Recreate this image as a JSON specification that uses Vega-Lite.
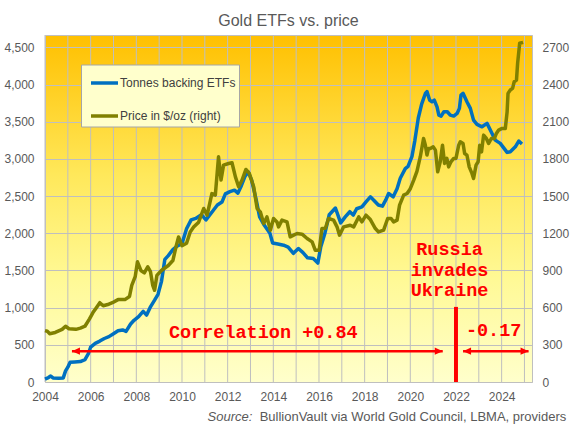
{
  "$schema": "https://vega.github.io/schema/vega-lite/v6.json",
  "autosize": "none",
  "width": 487,
  "height": 347,
  "padding": {"left": 45, "top": 35, "right": 43, "bottom": 44},
  "title": {
    "text": "Gold ETFs vs. price",
    "font": "Liberation Sans",
    "fontSize": 16,
    "fontWeight": "normal",
    "color": "#595959",
    "anchor": "middle",
    "baseline": "alphabetic",
    "offset": 10,
    "dy": 17
  },
  "view": {
    "stroke": "#BFBFBF",
    "fill": {
      "gradient": "linear", "x1": 0, "y1": 0, "x2": 0, "y2": 1,
      "stops": [
        {"offset": 0, "color": "#FFC000"},
        {"offset": 0.4, "color": "#FFE85A"},
        {"offset": 0.7, "color": "#FFF995"},
        {"offset": 1, "color": "#FFFFCC"}
      ]
    }
  },
  "datasets": {
    "years": [
      {"year": 2004}, {"year": 2005}, {"year": 2006}, {"year": 2007}, {"year": 2008}, {"year": 2009},
      {"year": 2010}, {"year": 2011}, {"year": 2012}, {"year": 2013}, {"year": 2014}, {"year": 2015},
      {"year": 2016}, {"year": 2017}, {"year": 2018}, {"year": 2019}, {"year": 2020}, {"year": 2021},
      {"year": 2022}, {"year": 2023}, {"year": 2024}, {"year": 2025}
    ],
    "etf": [
      {"year": 2004.00, "tonnes": 40}, {"year": 2004.15, "tonnes": 60}, {"year": 2004.25, "tonnes": 80},
      {"year": 2004.35, "tonnes": 55}, {"year": 2004.60, "tonnes": 50}, {"year": 2004.80, "tonnes": 55},
      {"year": 2004.90, "tonnes": 150}, {"year": 2005.00, "tonnes": 200}, {"year": 2005.10, "tonnes": 265},
      {"year": 2005.30, "tonnes": 270}, {"year": 2005.55, "tonnes": 275}, {"year": 2005.75, "tonnes": 300},
      {"year": 2005.90, "tonnes": 380}, {"year": 2006.00, "tonnes": 470}, {"year": 2006.20, "tonnes": 520},
      {"year": 2006.40, "tonnes": 550}, {"year": 2006.60, "tonnes": 585}, {"year": 2006.80, "tonnes": 610},
      {"year": 2007.00, "tonnes": 650}, {"year": 2007.20, "tonnes": 690}, {"year": 2007.40, "tonnes": 700},
      {"year": 2007.55, "tonnes": 680}, {"year": 2007.75, "tonnes": 780}, {"year": 2007.90, "tonnes": 830},
      {"year": 2008.10, "tonnes": 880}, {"year": 2008.30, "tonnes": 950}, {"year": 2008.45, "tonnes": 900},
      {"year": 2008.60, "tonnes": 1000}, {"year": 2008.80, "tonnes": 1100}, {"year": 2008.95, "tonnes": 1180},
      {"year": 2009.10, "tonnes": 1350}, {"year": 2009.25, "tonnes": 1650}, {"year": 2009.40, "tonnes": 1700},
      {"year": 2009.60, "tonnes": 1780}, {"year": 2009.80, "tonnes": 1830}, {"year": 2010.00, "tonnes": 1860},
      {"year": 2010.20, "tonnes": 2060}, {"year": 2010.40, "tonnes": 2180}, {"year": 2010.60, "tonnes": 2200},
      {"year": 2010.85, "tonnes": 2250}, {"year": 2011.05, "tonnes": 2180}, {"year": 2011.20, "tonnes": 2240},
      {"year": 2011.35, "tonnes": 2300}, {"year": 2011.55, "tonnes": 2380}, {"year": 2011.75, "tonnes": 2420},
      {"year": 2011.90, "tonnes": 2530}, {"year": 2012.10, "tonnes": 2560}, {"year": 2012.30, "tonnes": 2580},
      {"year": 2012.45, "tonnes": 2540}, {"year": 2012.60, "tonnes": 2640}, {"year": 2012.75, "tonnes": 2760},
      {"year": 2012.90, "tonnes": 2826}, {"year": 2013.05, "tonnes": 2715}, {"year": 2013.25, "tonnes": 2450},
      {"year": 2013.40, "tonnes": 2220}, {"year": 2013.60, "tonnes": 2110}, {"year": 2013.85, "tonnes": 2000},
      {"year": 2013.97, "tonnes": 1870}, {"year": 2014.20, "tonnes": 1855}, {"year": 2014.45, "tonnes": 1840},
      {"year": 2014.65, "tonnes": 1815}, {"year": 2014.88, "tonnes": 1730}, {"year": 2015.10, "tonnes": 1795},
      {"year": 2015.30, "tonnes": 1740}, {"year": 2015.50, "tonnes": 1670}, {"year": 2015.75, "tonnes": 1660},
      {"year": 2015.95, "tonnes": 1600}, {"year": 2016.08, "tonnes": 1820}, {"year": 2016.25, "tonnes": 1990},
      {"year": 2016.45, "tonnes": 2250}, {"year": 2016.72, "tonnes": 2340}, {"year": 2016.95, "tonnes": 2140},
      {"year": 2017.15, "tonnes": 2220}, {"year": 2017.35, "tonnes": 2290}, {"year": 2017.50, "tonnes": 2245},
      {"year": 2017.65, "tonnes": 2330}, {"year": 2017.88, "tonnes": 2355}, {"year": 2018.05, "tonnes": 2420},
      {"year": 2018.25, "tonnes": 2490}, {"year": 2018.40, "tonnes": 2445}, {"year": 2018.60, "tonnes": 2380},
      {"year": 2018.78, "tonnes": 2365}, {"year": 2018.92, "tonnes": 2445}, {"year": 2019.05, "tonnes": 2535},
      {"year": 2019.25, "tonnes": 2490}, {"year": 2019.42, "tonnes": 2600}, {"year": 2019.56, "tonnes": 2740},
      {"year": 2019.78, "tonnes": 2870}, {"year": 2019.90, "tonnes": 2900}, {"year": 2020.07, "tonnes": 3030},
      {"year": 2020.20, "tonnes": 3250}, {"year": 2020.35, "tonnes": 3550}, {"year": 2020.50, "tonnes": 3740},
      {"year": 2020.66, "tonnes": 3880}, {"year": 2020.73, "tonnes": 3905}, {"year": 2020.85, "tonnes": 3790},
      {"year": 2020.95, "tonnes": 3770}, {"year": 2021.05, "tonnes": 3790}, {"year": 2021.17, "tonnes": 3700},
      {"year": 2021.25, "tonnes": 3590}, {"year": 2021.35, "tonnes": 3576}, {"year": 2021.47, "tonnes": 3634},
      {"year": 2021.62, "tonnes": 3634}, {"year": 2021.75, "tonnes": 3589}, {"year": 2021.90, "tonnes": 3576},
      {"year": 2022.05, "tonnes": 3612}, {"year": 2022.15, "tonnes": 3680}, {"year": 2022.22, "tonnes": 3859},
      {"year": 2022.31, "tonnes": 3882}, {"year": 2022.48, "tonnes": 3769}, {"year": 2022.63, "tonnes": 3680},
      {"year": 2022.77, "tonnes": 3522}, {"year": 2022.92, "tonnes": 3464}, {"year": 2023.14, "tonnes": 3432},
      {"year": 2023.36, "tonnes": 3478}, {"year": 2023.58, "tonnes": 3343}, {"year": 2023.72, "tonnes": 3253},
      {"year": 2023.94, "tonnes": 3209}, {"year": 2024.24, "tonnes": 3088}, {"year": 2024.38, "tonnes": 3096},
      {"year": 2024.60, "tonnes": 3163}, {"year": 2024.75, "tonnes": 3240}, {"year": 2024.89, "tonnes": 3200}
    ],
    "price": [
      {"year": 2004.00, "price": 415}, {"year": 2004.10, "price": 410}, {"year": 2004.20, "price": 390},
      {"year": 2004.45, "price": 400}, {"year": 2004.75, "price": 425}, {"year": 2004.90, "price": 450},
      {"year": 2005.05, "price": 430}, {"year": 2005.35, "price": 425}, {"year": 2005.55, "price": 435},
      {"year": 2005.75, "price": 450}, {"year": 2005.95, "price": 510}, {"year": 2006.10, "price": 560},
      {"year": 2006.25, "price": 600}, {"year": 2006.40, "price": 640}, {"year": 2006.55, "price": 615},
      {"year": 2006.75, "price": 625}, {"year": 2006.95, "price": 640}, {"year": 2007.20, "price": 665},
      {"year": 2007.50, "price": 665}, {"year": 2007.70, "price": 690}, {"year": 2007.80, "price": 780},
      {"year": 2007.95, "price": 850}, {"year": 2008.05, "price": 970}, {"year": 2008.20, "price": 900},
      {"year": 2008.35, "price": 880}, {"year": 2008.50, "price": 930}, {"year": 2008.62, "price": 890},
      {"year": 2008.72, "price": 780}, {"year": 2008.80, "price": 740}, {"year": 2008.90, "price": 860},
      {"year": 2009.10, "price": 900}, {"year": 2009.40, "price": 940}, {"year": 2009.60, "price": 980},
      {"year": 2009.75, "price": 1100}, {"year": 2009.85, "price": 1170}, {"year": 2010.00, "price": 1100},
      {"year": 2010.20, "price": 1120}, {"year": 2010.36, "price": 1210}, {"year": 2010.51, "price": 1250},
      {"year": 2010.73, "price": 1290}, {"year": 2010.95, "price": 1400}, {"year": 2011.10, "price": 1346},
      {"year": 2011.31, "price": 1520}, {"year": 2011.46, "price": 1508}, {"year": 2011.60, "price": 1817},
      {"year": 2011.71, "price": 1630}, {"year": 2011.82, "price": 1750}, {"year": 2012.04, "price": 1763},
      {"year": 2012.19, "price": 1769}, {"year": 2012.34, "price": 1655}, {"year": 2012.48, "price": 1575},
      {"year": 2012.63, "price": 1629}, {"year": 2012.80, "price": 1715}, {"year": 2012.95, "price": 1683},
      {"year": 2013.14, "price": 1575}, {"year": 2013.29, "price": 1400}, {"year": 2013.43, "price": 1373},
      {"year": 2013.58, "price": 1279}, {"year": 2013.72, "price": 1332}, {"year": 2013.87, "price": 1225},
      {"year": 2014.01, "price": 1319}, {"year": 2014.16, "price": 1292}, {"year": 2014.23, "price": 1252},
      {"year": 2014.38, "price": 1306}, {"year": 2014.60, "price": 1292}, {"year": 2014.74, "price": 1171},
      {"year": 2014.89, "price": 1185}, {"year": 2015.04, "price": 1198}, {"year": 2015.26, "price": 1193},
      {"year": 2015.48, "price": 1158}, {"year": 2015.70, "price": 1131}, {"year": 2015.84, "price": 1063},
      {"year": 2016.01, "price": 1063}, {"year": 2016.13, "price": 1238}, {"year": 2016.28, "price": 1240},
      {"year": 2016.42, "price": 1319}, {"year": 2016.64, "price": 1306}, {"year": 2016.79, "price": 1252},
      {"year": 2016.90, "price": 1185}, {"year": 2017.08, "price": 1252}, {"year": 2017.37, "price": 1265},
      {"year": 2017.52, "price": 1252}, {"year": 2017.74, "price": 1332}, {"year": 2017.88, "price": 1292},
      {"year": 2018.06, "price": 1346}, {"year": 2018.25, "price": 1311}, {"year": 2018.47, "price": 1238},
      {"year": 2018.61, "price": 1211}, {"year": 2018.83, "price": 1225}, {"year": 2019.01, "price": 1319},
      {"year": 2019.16, "price": 1319}, {"year": 2019.27, "price": 1292}, {"year": 2019.42, "price": 1306},
      {"year": 2019.53, "price": 1427}, {"year": 2019.71, "price": 1508}, {"year": 2019.86, "price": 1521},
      {"year": 2020.00, "price": 1560}, {"year": 2020.15, "price": 1629}, {"year": 2020.29, "price": 1700},
      {"year": 2020.44, "price": 1820}, {"year": 2020.58, "price": 1965}, {"year": 2020.66, "price": 1911},
      {"year": 2020.73, "price": 1831}, {"year": 2020.80, "price": 1885}, {"year": 2020.88, "price": 1885},
      {"year": 2021.00, "price": 1898}, {"year": 2021.10, "price": 1871}, {"year": 2021.20, "price": 1696},
      {"year": 2021.31, "price": 1777}, {"year": 2021.41, "price": 1911}, {"year": 2021.50, "price": 1764},
      {"year": 2021.60, "price": 1804}, {"year": 2021.68, "price": 1736}, {"year": 2021.78, "price": 1777},
      {"year": 2021.90, "price": 1804}, {"year": 2022.00, "price": 1804}, {"year": 2022.12, "price": 1911},
      {"year": 2022.19, "price": 1938}, {"year": 2022.31, "price": 1925}, {"year": 2022.38, "price": 1844},
      {"year": 2022.48, "price": 1831}, {"year": 2022.58, "price": 1736}, {"year": 2022.70, "price": 1683},
      {"year": 2022.77, "price": 1642}, {"year": 2022.88, "price": 1750}, {"year": 2022.97, "price": 1777},
      {"year": 2023.04, "price": 1911}, {"year": 2023.12, "price": 1857}, {"year": 2023.21, "price": 1992},
      {"year": 2023.33, "price": 1965}, {"year": 2023.43, "price": 1925}, {"year": 2023.55, "price": 1965},
      {"year": 2023.68, "price": 1965}, {"year": 2023.77, "price": 2006}, {"year": 2023.87, "price": 2033},
      {"year": 2024.02, "price": 2046}, {"year": 2024.16, "price": 2046}, {"year": 2024.24, "price": 2180},
      {"year": 2024.28, "price": 2329}, {"year": 2024.38, "price": 2356}, {"year": 2024.48, "price": 2369},
      {"year": 2024.55, "price": 2423}, {"year": 2024.65, "price": 2436}, {"year": 2024.70, "price": 2571},
      {"year": 2024.79, "price": 2733}, {"year": 2024.94, "price": 2741}
    ],
    "notes": [
      {"year": 2013.56, "tonnes": 678, "label": "Correlation +0.84"},
      {"year": 2023.65, "tonnes": 698, "label": "-0.17"},
      {"year": 2021.72, "tonnes": 1789, "label": "Russia"},
      {"year": 2021.72, "tonnes": 1507, "label": "invades"},
      {"year": 2021.72, "tonnes": 1232, "label": "Ukraine"}
    ],
    "arrows": [
      {"year": 2005.18, "to": 2021.42, "tonnes": 415},
      {"year": 2022.31, "to": 2025.18, "tonnes": 415}
    ],
    "heads": [
      {"year": 2005.18, "tonnes": 415, "dir": "left"},
      {"year": 2021.42, "tonnes": 415, "dir": "right"},
      {"year": 2022.31, "tonnes": 415, "dir": "left"},
      {"year": 2025.18, "tonnes": 415, "dir": "right"}
    ],
    "invasion": [{"year": 2022.0, "tonnes": 0, "top": 1010}],
    "source": [{"year": 2026.83, "tonnes": -529, "label": "BullionVault via World Gold Council, LBMA, providers"}],
    "sourceLead": [{"year": 2013.08, "tonnes": -529, "label": "Source:"}]
  },
  "encoding": {
    "x": {
      "field": "year", "type": "quantitative",
      "scale": {"domain": [2004, 2025.33], "nice": false, "zero": false},
      "axis": {
        "title": null, "grid": false, "format": "d", "labelPadding": 9, "labelFlush": false,
        "values": [2004, 2006, 2008, 2010, 2012, 2014, 2016, 2018, 2020, 2022, 2024]
      }
    }
  },
  "layer": [
    {
      "data": {"name": "years"},
      "mark": {"type": "rule", "color": "#BFBFBF", "strokeWidth": 1}
    },
    {
      "data": {"name": "etf"},
      "mark": {"type": "line", "strokeWidth": 3.5, "strokeJoin": "round"},
      "encoding": {
        "y": {
          "field": "tonnes", "type": "quantitative",
          "scale": {"domain": [0, 4666.67], "nice": false},
          "axis": {
            "title": null, "grid": true, "format": ",d", "orient": "left",
            "values": [0, 500, 1000, 1500, 2000, 2500, 3000, 3500, 4000, 4500],
            "labelPadding": 11
          }
        },
        "color": {
          "datum": "Tonnes backing ETFs",
          "scale": {"domain": ["Tonnes backing ETFs", "Price in $/oz (right)"], "range": ["#0070C0", "#808000"]},
          "legend": {
            "title": null, "orient": "none", "legendX": 36, "legendY": 29.5,
            "fillColor": "#FFFFCC", "strokeColor": "#A6A6A6", "padding": 3,
            "symbolType": "stroke", "symbolSize": 729, "symbolStrokeWidth": 3.5, "symbolOffset": 5,
            "labelFont": "Liberation Sans", "labelFontSize": 12, "labelColor": "#404040",
            "labelOffset": 0, "rowPadding": 10
          }
        }
      }
    },
    {
      "data": {"name": "invasion"},
      "mark": {"type": "rule", "color": "#FF0000", "strokeWidth": 4},
      "encoding": {
        "y": {"field": "tonnes", "type": "quantitative", "axis": null, "scale": {"domain": [0, 4666.67], "nice": false}},
        "y2": {"field": "top"}
      }
    },
    {
      "data": {"name": "arrows"},
      "mark": {"type": "rule", "color": "#FF0000", "strokeWidth": 2.5},
      "encoding": {
        "x2": {"field": "to"},
        "y": {"field": "tonnes", "type": "quantitative", "axis": null, "scale": {"domain": [0, 4666.67], "nice": false}}
      }
    },
    {
      "data": {"name": "heads"},
      "mark": {"type": "point", "filled": true, "color": "#FF0000", "size": 64, "opacity": 1},
      "encoding": {
        "y": {"field": "tonnes", "type": "quantitative", "axis": null, "scale": {"domain": [0, 4666.67], "nice": false}},
        "shape": {
          "field": "dir", "type": "nominal", "legend": null,
          "scale": {"domain": ["left", "right"], "range": ["M 0 0 L 2 -0.9 L 2 0.9 Z", "M 0 0 L -2 -0.9 L -2 0.9 Z"]}
        }
      }
    },
    {
      "data": {"name": "notes"},
      "mark": {"type": "text", "color": "#FF0000", "font": "Liberation Mono", "fontWeight": "bold", "fontSize": 18.5, "baseline": "middle", "align": "center"},
      "encoding": {
        "y": {"field": "tonnes", "type": "quantitative", "axis": null, "scale": {"domain": [0, 4666.67], "nice": false}},
        "text": {"field": "label"}
      }
    },
    {
      "data": {"name": "source"},
      "mark": {"type": "text", "color": "#595959", "font": "Liberation Sans", "fontSize": 13, "baseline": "alphabetic", "align": "right"},
      "encoding": {
        "y": {"field": "tonnes", "type": "quantitative", "axis": null, "scale": {"domain": [0, 4666.67], "nice": false}},
        "text": {"field": "label"}
      }
    },
    {
      "data": {"name": "sourceLead"},
      "mark": {"type": "text", "color": "#595959", "font": "Liberation Sans", "fontSize": 13, "fontStyle": "italic", "baseline": "alphabetic", "align": "right"},
      "encoding": {
        "y": {"field": "tonnes", "type": "quantitative", "axis": null, "scale": {"domain": [0, 4666.67], "nice": false}},
        "text": {"field": "label"}
      }
    },
    {
      "data": {"name": "price"},
      "mark": {"type": "line", "strokeWidth": 3.5, "strokeJoin": "round"},
      "encoding": {
        "y": {
          "field": "price", "type": "quantitative",
          "scale": {"domain": [0, 2800], "nice": false},
          "axis": {
            "title": null, "orient": "right", "grid": false, "format": "d",
            "values": [0, 300, 600, 900, 1200, 1500, 1800, 2100, 2400, 2700],
            "labelPadding": 10
          }
        },
        "color": {"datum": "Price in $/oz (right)"}
      }
    }
  ],
  "resolve": {"scale": {"y": "independent"}},
  "config": {
    "font": "Liberation Sans",
    "axis": {
      "gridColor": "#BFBFBF", "gridOpacity": 1, "domain": false, "ticks": false,
      "labelColor": "#595959", "labelFont": "Liberation Sans", "labelFontSize": 12
    }
  }
}
